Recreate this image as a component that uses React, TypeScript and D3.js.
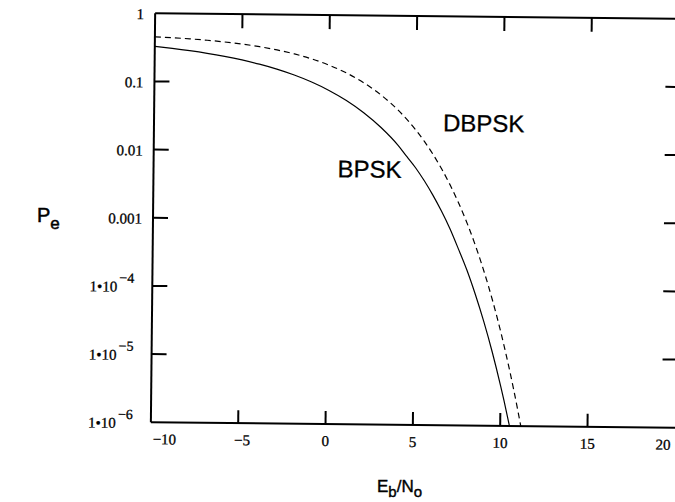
import React from 'react'
import * as d3 from 'd3'

const W = 675
const H = 502

// Eb/No in dB and error probability
const bpskEbNo = [-10, -9, -8, -7, -6, -5, -4, -3, -2, -1, 0, 1, 2, 3, 4, 4.5, 5, 5.5, 6, 6.5, 7, 7.5, 8, 8.5, 9, 9.5, 10, 10.2, 10.5, 10.8]
const bpskPe = [0.3274, 0.3079, 0.2867, 0.2638, 0.2392, 0.2132, 0.1861, 0.1584, 0.1306, 0.1038, 0.0786, 0.0563, 0.0375, 0.0229, 0.0125, 0.0086, 0.00595, 0.00387, 0.00239, 0.0014, 0.000773, 0.00039, 0.000191, 0.0000838, 0.0000336, 0.0000121, 0.00000387, 0.00000237, 0.00000108, 0.00000047]

const dbpskEbNo = [-10, -9, -8, -7, -6, -5, -4, -3, -2, -1, 0, 1, 2, 3, 4, 5, 5.5, 6, 6.5, 7, 7.5, 8, 8.5, 9, 9.5, 10, 10.25, 10.5, 10.75, 11, 11.25, 11.5]
const dbpskPe = [0.4524, 0.4408, 0.4267, 0.4095, 0.3889, 0.3644, 0.3358, 0.3029, 0.266, 0.226, 0.1839, 0.142, 0.1025, 0.068, 0.0406, 0.02116, 0.01439, 0.00933, 0.00574, 0.003327, 0.001806, 0.00091, 0.000421, 0.0001773, 0.0000673, 0.0000227, 0.0000125, 0.00000669, 0.00000344, 0.0000017, 0.000000806, 0.000000366]

const xTicks = [-10, -5, 0, 5, 10, 15, 20]
const xTickLabels = ['\u221210', '\u22125', '0', '5', '10', '15', '20']
const yTicks = [1, 0.1, 0.01, 0.001, 1e-4, 1e-5, 1e-6]
const yTickLabels = ['1', '0.1', '0.01', '0.001', '1\u202210', '1\u202210', '1\u202210']
const yTickExp = ['', '', '', '', '\u22124', '\u22125', '\u22126']

const left = 153
const right = 677
const top = 16
const bottom = 425

export default function App() {
    const x = d3.scaleLinear().domain([-10, 20]).range([left, right])
    const y = d3.scaleLog().domain([1e-6, 1]).range([bottom, top])

    const line = d3.line<[number, number]>()
        .x(d => x(d[0]))
        .y(d => y(d[1]))
        .curve(d3.curveMonotoneX)

    const bpskPath = line(bpskEbNo.map((v, i) => [v, bpskPe[i]] as [number, number]))
    const dbpskPath = line(dbpskEbNo.map((v, i) => [v, dbpskPe[i]] as [number, number]))

    const serif = '"Liberation Serif", "Times New Roman", serif'
    const sans = '"Liberation Sans", Arial, sans-serif'
    const innerTicks = yTicks.slice(1, -1)
    const innerX = xTicks.slice(1, -1)

    // first label starts at the axis, last one is pulled in so it stays on the page
    const xLabelPos = (t: number, i: number) => {
        if (i === 0) return { x: x(t) + 2, anchor: 'start' }
        if (i === xTicks.length - 1) return { x: W - 2, anchor: 'end' }
        return { x: x(t) + (t < 0 ? 4 : 0), anchor: 'middle' }
    }

    return (
        <svg width={W} height={H} style={{ position: 'absolute', left: 0, top: 0, background: 'white' }}>
            <defs>
                <clipPath id="plotClip">
                    <rect x={left} y={top} width={right - left} height={bottom - top} />
                </clipPath>
            </defs>
            <g transform={`rotate(0.6, 413, 220)`}>
                {/* frame (right side falls off the page) */}
                <line x1={left} y1={top} x2={right + 6} y2={top} stroke="black" strokeWidth={2} />
                <line x1={left} y1={bottom} x2={right + 6} y2={bottom} stroke="black" strokeWidth={2} />
                <line x1={left} y1={top} x2={left} y2={bottom} stroke="black" strokeWidth={2} />

                {/* y ticks, both sides */}
                {innerTicks.map(t => (
                    <g key={'yt' + t}>
                        <line x1={left} x2={left + 15} y1={y(t)} y2={y(t)} stroke="black" strokeWidth={2} />
                        <line x1={right - 13} x2={right} y1={y(t)} y2={y(t)} stroke="black" strokeWidth={2} />
                    </g>
                ))}
                {/* x ticks, bottom and top */}
                {innerX.map(t => (
                    <g key={'xt' + t}>
                        <line x1={x(t)} x2={x(t)} y1={bottom} y2={bottom - 13} stroke="black" strokeWidth={2} />
                        <line x1={x(t)} x2={x(t)} y1={top} y2={top + 14} stroke="black" strokeWidth={2} />
                    </g>
                ))}

                {/* y labels */}
                {yTicks.map((t, i) => (
                    <text key={'yl' + t} x={yTickExp[i] ? 118 : 142} y={y(t) + 6} textAnchor="end"
                        fontFamily={serif} fontSize={15} fill="black" stroke="black" strokeWidth={0.3}>
                        {yTickLabels[i]}
                        {yTickExp[i] && (
                            <tspan x={120} dy={-9} textAnchor="start" fontSize={14}>{yTickExp[i]}</tspan>
                        )}
                    </text>
                ))}

                {/* x labels */}
                {xTicks.map((t, i) => {
                    const p = xLabelPos(t, i)
                    return (
                        <text key={'xl' + t} x={p.x} y={bottom + 22} textAnchor={p.anchor}
                            fontFamily={serif} fontSize={15} fill="black" stroke="black" strokeWidth={0.3}>
                            {xTickLabels[i]}
                        </text>
                    )
                })}

                <g clipPath="url(#plotClip)">
                    <path d={bpskPath || ''} fill="none" stroke="black" strokeWidth={1.2} />
                    <path d={dbpskPath || ''} fill="none" stroke="black" strokeWidth={1.2} strokeDasharray="6,4" />
                </g>

                <text x={337} y={178} fontFamily={sans} fontSize={24} fill="black" stroke="black" strokeWidth={0.3}>BPSK</text>
                <text x={442} y={131} fontFamily={sans} fontSize={24} fill="black" stroke="black" strokeWidth={0.3}>DBPSK</text>
            </g>

            {/* axis titles */}
            <text x={37} y={222} fontFamily={sans} fontSize={20} fill="black" stroke="black" strokeWidth={0.5}>
                P<tspan dy={7} fontSize={17}>e</tspan>
            </text>
            <text x={377} y={492} fontFamily={sans} fontSize={17} fill="black" stroke="black" strokeWidth={0.4}>
                E<tspan dy={5} fontSize={15}>b</tspan><tspan dy={-5}>/N</tspan><tspan dy={5} fontSize={15}>o</tspan>
            </text>
        </svg>
    )
}
